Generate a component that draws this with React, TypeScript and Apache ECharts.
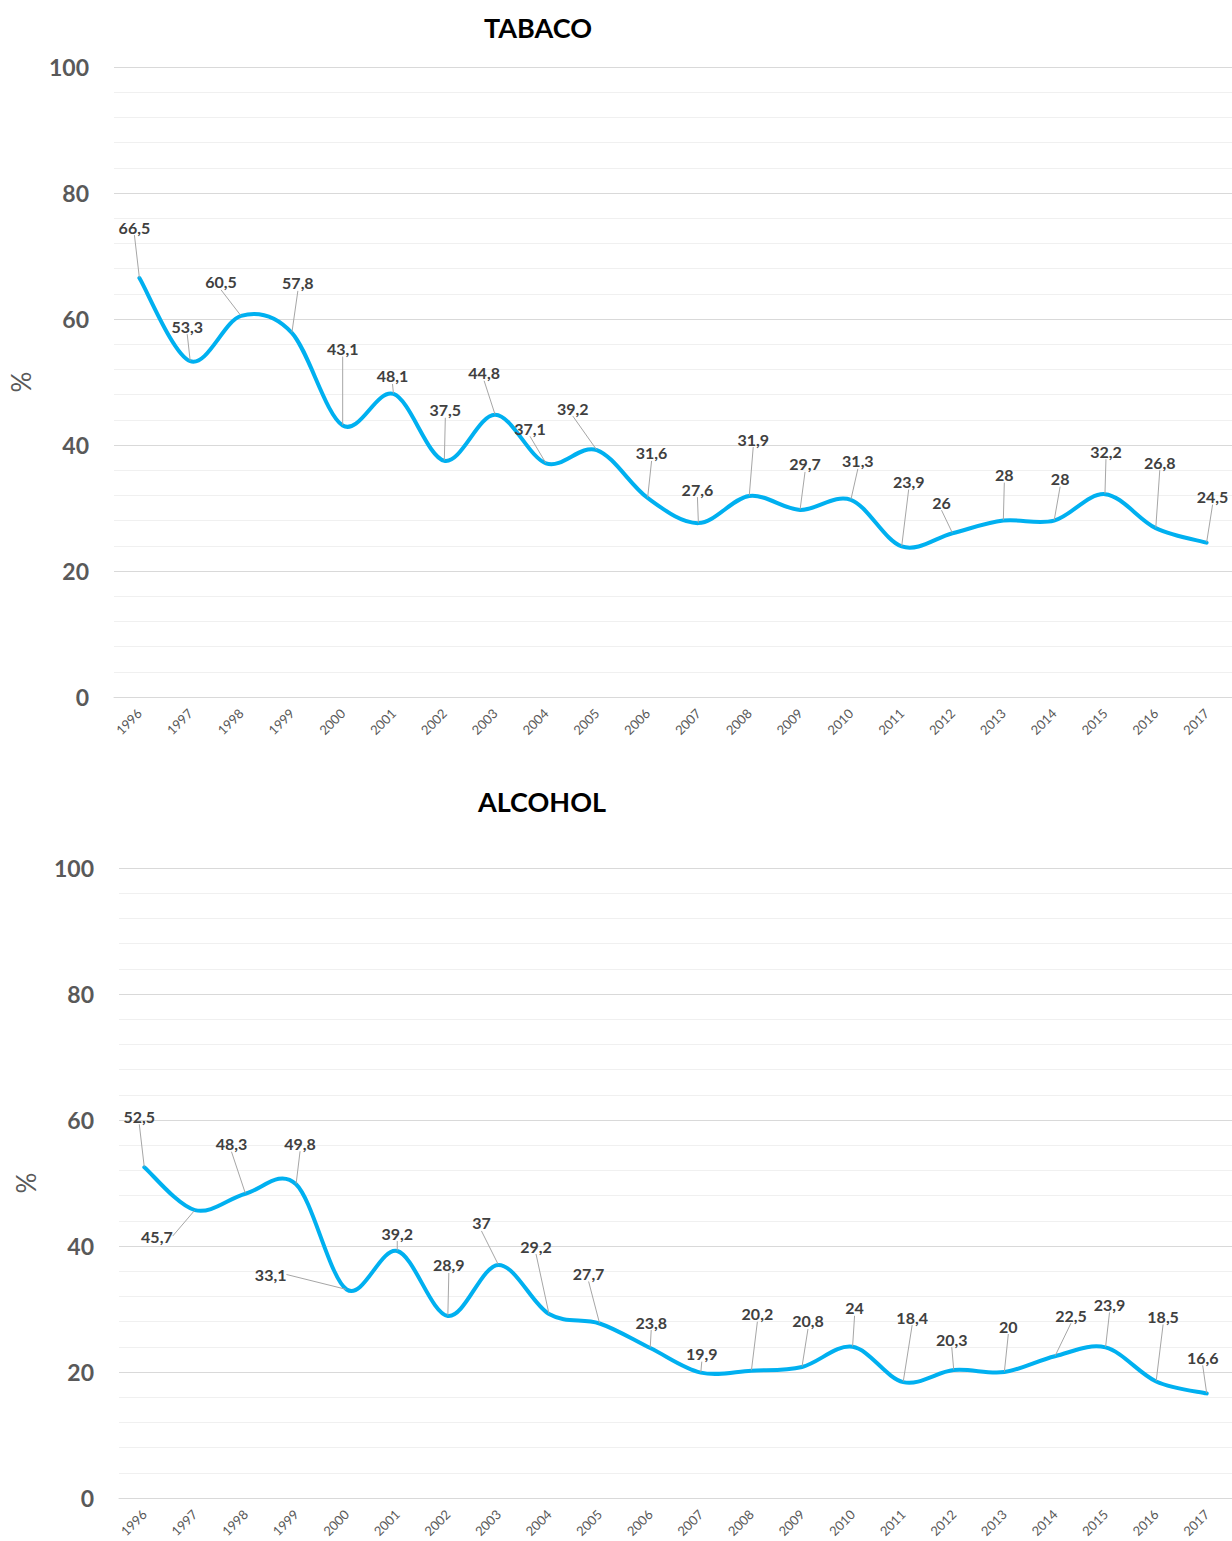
import React, { useEffect, useRef } from "react";
import * as echarts from "echarts";

const years = ["1996","1997","1998","1999","2000","2001","2002","2003","2004","2005","2006","2007","2008","2009","2010","2011","2012","2013","2014","2015","2016","2017"];
const tabaco = [66.5,53.3,60.5,57.8,43.1,48.1,37.5,44.8,37.1,39.2,31.6,27.6,31.9,29.7,31.3,23.9,26,28,28,32.2,26.8,24.5];
const alcohol = [52.5,45.7,48.3,49.8,33.1,39.2,28.9,37,29.2,27.7,23.8,19.9,20.2,20.8,24,18.4,20.3,20,22.5,23.9,18.5,16.6];
const yTicks = [0, 20, 40, 60, 80, 100];

// label offsets (layout only)
const tabacoOffsets: [number, number][] = [[-5,-51],[-3,-35],[-20,-34],[6,-50],[0,-77],[-1,-18],[1,-51],[-11,-42],[-16,-35],[-24,-42],[4,-45],[-1,-34],[4,-57],[5,-46],[7,-39],[7,-65],[-11,-31],[1,-46],[6,-42],[1,-43],[4,-66],[6,-46]];
const alcoholOffsets: [number, number][] = [[-5,-51],[-38,26],[-14,-50],[4,-41],[-76,-15],[0,-18],[1,-51],[-17,-42],[-13,-68],[-11,-50],[1,-26],[1,-19],[6,-57],[6,-46],[2,-39],[9,-65],[-2,-31],[4,-46],[16,-41],[4,-43],[7,-65],[-4,-36]];

const FONT = "Lato, 'Open Sans', sans-serif";
const GRAY = "#595959";
const BLUE = "#00B0F0";

export default function App() {
  const ref = useRef<HTMLDivElement>(null);
  useEffect(() => {
    if (!ref.current) return;
    const chart = echarts.init(ref.current, undefined, { renderer: "svg" });
    const fmt = (p: any) => String(p.value).replace(".", ",");
    const mkX = (gi: number) => ({
      type: "category",
      gridIndex: gi,
      data: years,
      boundaryGap: true,
      axisLine: { lineStyle: { color: "#d9d9d9", width: 1 } },
      axisTick: { show: false },
      axisLabel: { rotate: 45, color: GRAY, fontFamily: FONT, fontSize: 13, margin: 14, interval: 0 },
    });
    const mkY = (gi: number) => ({
      type: "value",
      gridIndex: gi,
      min: yTicks[0],
      max: yTicks[yTicks.length - 1],
      interval: 20,
      name: "%",
      nameLocation: "middle",
      nameRotate: 90,
      nameGap: 80,
      nameTextStyle: { color: GRAY, fontFamily: FONT, fontSize: 26 },
      axisLine: { show: false },
      axisTick: { show: false },
      axisLabel: { color: GRAY, fontFamily: FONT, fontSize: 23, fontWeight: "bold", margin: 25 },
      splitLine: { lineStyle: { color: "#d9d9d9", width: 1 } },
      minorTick: { show: false, splitNumber: 5 },
      minorSplitLine: { show: true, lineStyle: { color: "#f0f0f0", width: 1 } },
    });
    // smooth curve (Catmull-Rom style, like a spreadsheet's smoothed line)
    const mkCurve = (gi: number, data: number[]) => ({
      type: "custom",
      xAxisIndex: gi,
      yAxisIndex: gi,
      data: data.map((v, i) => [i, v]),
      silent: true,
      z: 2,
      renderItem: (params: any, api: any) => {
        if (params.dataIndex !== 0) return null;
        const pts = data.map((v, i) => api.coord([i, v]));
        const n = pts.length;
        const P = (i: number) => pts[Math.max(0, Math.min(n - 1, i))];
        let d = `M${pts[0][0]},${pts[0][1]}`;
        for (let i = 0; i < n - 1; i++) {
          const p0 = P(i - 1), p1 = P(i), p2 = P(i + 1), p3 = P(i + 2);
          const c1x = p1[0] + (p2[0] - p0[0]) / 6;
          const c1y = p1[1] + (p2[1] - p0[1]) / 6;
          const c2x = p2[0] - (p3[0] - p1[0]) / 6;
          const c2y = p2[1] - (p3[1] - p1[1]) / 6;
          d += ` C${c1x},${c1y} ${c2x},${c2y} ${p2[0]},${p2[1]}`;
        }
        return {
          type: "path",
          shape: { pathData: d },
          style: { fill: "none", stroke: BLUE, lineWidth: 4, lineCap: "round", lineJoin: "round" },
        };
      },
    });
    const mkLabels = (gi: number, data: number[], offs: [number, number][]) => ({
      type: "line",
      xAxisIndex: gi,
      yAxisIndex: gi,
      data,
      z: 3,
      symbol: "circle",
      symbolSize: 1,
      itemStyle: { color: "rgba(0,0,0,0)", borderWidth: 0 },
      lineStyle: { color: "rgba(0,0,0,0)", width: 0 },
      label: {
        show: true,
        position: "inside",
        formatter: fmt,
        color: "#404040",
        fontFamily: FONT,
        fontWeight: "bold",
        fontSize: 16,
      },
      labelLine: { show: true, lineStyle: { color: "#a6a6a6", width: 1 } },
      labelLayout: (p: any) => {
        const o = offs[p.dataIndex];
        return { dx: o[0], dy: o[1] };
      },
    });
    chart.setOption({
      animation: false,
      backgroundColor: "#ffffff",
      graphic: [
        { type: "text", x: 538, y: 27, style: { text: "TABACO", textAlign: "center", textVerticalAlign: "middle", fontFamily: FONT, fontSize: 27, fontWeight: "bold", fill: "#000" } },
        { type: "text", x: 542, y: 801, style: { text: "ALCOHOL", textAlign: "center", textVerticalAlign: "middle", fontFamily: FONT, fontSize: 27, fontWeight: "bold", fill: "#000" } },
      ],
      grid: [
        { left: 114, top: 67, width: 1118, height: 630 },
        { left: 119, top: 868, width: 1113, height: 630 },
      ],
      xAxis: [mkX(0), mkX(1)],
      yAxis: [mkY(0), mkY(1)],
      series: [
        mkCurve(0, tabaco),
        mkLabels(0, tabaco, tabacoOffsets),
        mkCurve(1, alcohol),
        mkLabels(1, alcohol, alcoholOffsets),
      ],
    });
    return () => chart.dispose();
  }, []);
  return <div ref={ref} style={{ position: "absolute", left: 0, top: 0, width: 1232, height: 1541 }} />;
}
